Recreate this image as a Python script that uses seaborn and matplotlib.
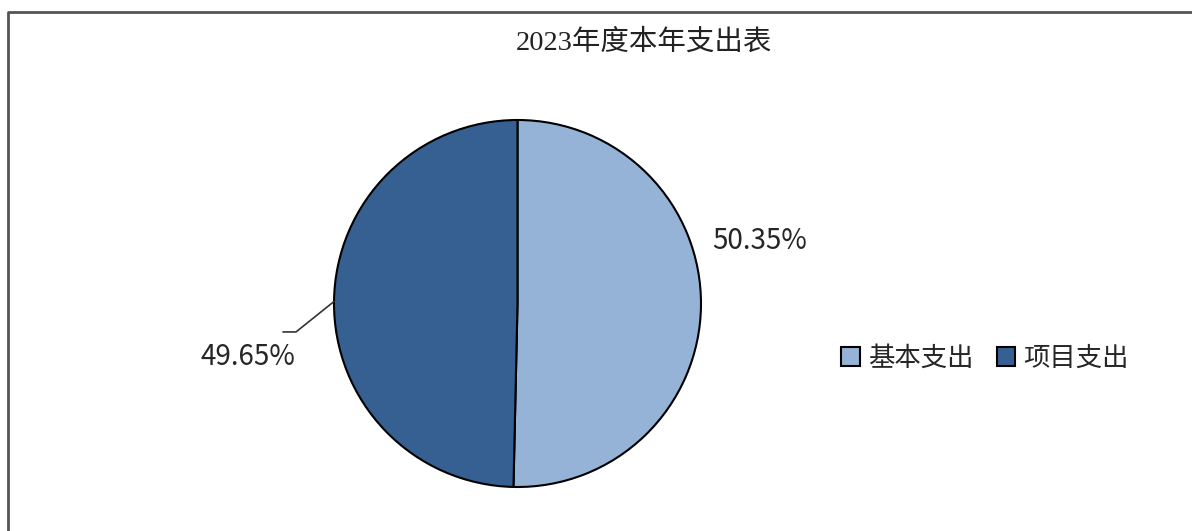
import matplotlib
matplotlib.use('Agg')
import matplotlib.pyplot as plt
import numpy as np
import seaborn as sns
from matplotlib.lines import Line2D

# Data
categories = ['基本支出', '项目支出']
shares = [50.35, 49.65]
pct_labels = ['50.35%', '49.65%']
colors = ['#95B3D7', '#366092']
title = '2023年度本年支出表'

sns.set_theme(style='white')
plt.rcParams['font.family'] = ['Noto Sans CJK SC', 'DejaVu Sans']

W, H = 1192, 531
fig = plt.figure(figsize=(W / 100, H / 100), dpi=100)
fig.patch.set_facecolor('white')

# pie axes: centre at (517.5, 303.5) px, radius 183.5 px
r_px = 183.5
lim = 1.1
side = 2 * lim * r_px
cx, cy = 517.5, 303.5
ax = fig.add_axes([(cx - side / 2) / W, (H - cy - side / 2) / H, side / W, side / H])

wedges, _ = ax.pie(shares, colors=colors, startangle=90, counterclock=False,
                   wedgeprops=dict(edgecolor='black', linewidth=1.5))
ax.set_xlim(-lim, lim)
ax.set_ylim(-lim, lim)
ax.set_aspect('equal')
ax.axis('off')

# percentage labels
ax.text(1.32, 0.34, pct_labels[0], fontsize=20, ha='center', va='center',
        family=['Noto Sans CJK SC', 'DejaVu Sans'], clip_on=False)
ax.text(-1.47, -0.29, pct_labels[1], fontsize=20, ha='center', va='center',
        family=['Noto Sans CJK SC', 'DejaVu Sans'], clip_on=False)

# leader line for the second wedge
w = wedges[1]
mid = np.deg2rad((w.theta1 + w.theta2) / 2)
x0, y0 = np.cos(mid), np.sin(mid)
ax.plot([x0, -1.207, -1.278], [y0, -0.155, -0.155], color='#333333', lw=1.2, clip_on=False)

# title
fig.text(644 / W, 1 - 42 / H, title, fontsize=20.5, ha='center', va='center',
         family=['Liberation Serif', 'Noto Sans CJK SC'], color='#222222')

# legend
fig.legend(wedges, categories, loc='center left', bbox_to_anchor=(828 / W, 1 - 358 / H),
           ncol=2, frameon=False, fontsize=19, handlelength=0.7, handleheight=0.7,
           handletextpad=0.3, columnspacing=0.9, borderpad=0)

# outer frame (left and top edges visible)
fig.add_artist(Line2D([8 / W, 8 / W, 1], [0, 1 - 12 / H, 1 - 12 / H],
                      transform=fig.transFigure, color='#555555', lw=2))

fig.savefig('out.png', dpi=100, facecolor='white')
